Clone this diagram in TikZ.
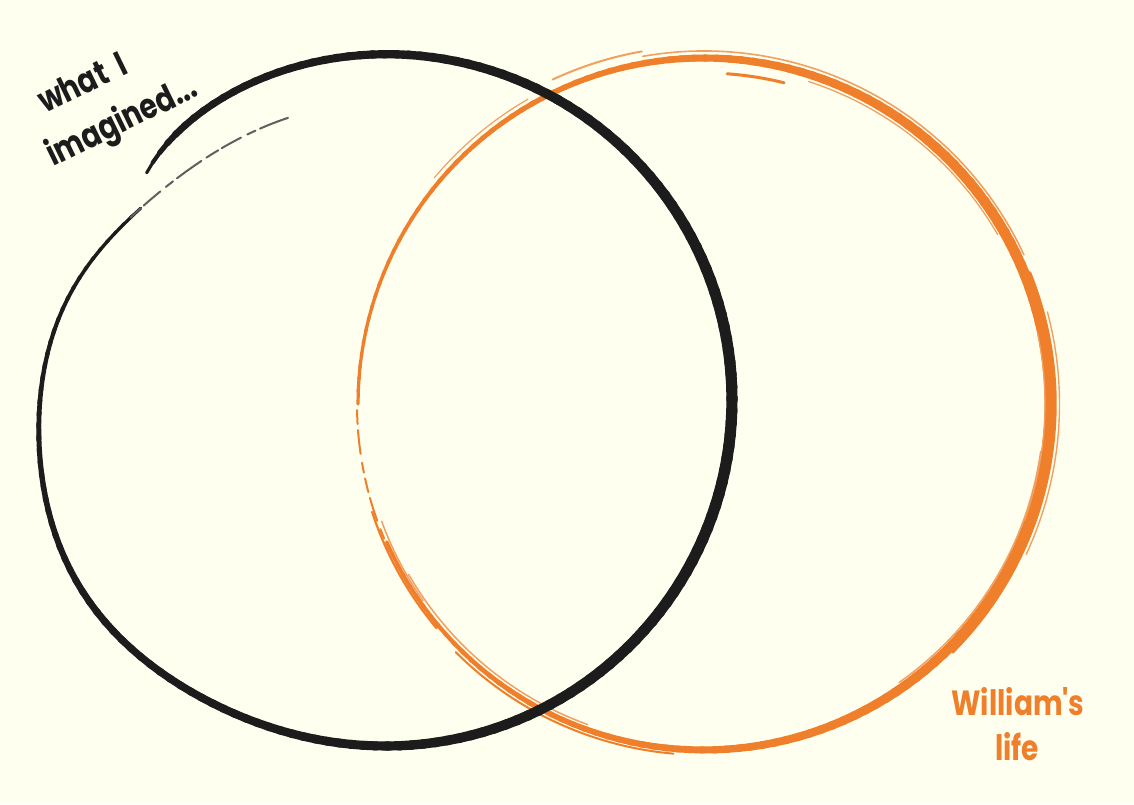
\documentclass[tikz,border=0pt]{standalone}
\usepackage{fontspec}
\newfontfamily\handfont{Poppins}[FakeStretch=0.8]
\definecolor{bg}{HTML}{FEFFEF}
\definecolor{ink}{HTML}{1C1C1C}
\definecolor{orng}{HTML}{EF7F2A}
\definecolor{orngl}{HTML}{F2A062}
\newcommand\orarc[4]{\draw[line cap=round,#1] ({704+#2*cos(#3)},{400+#2*sin(#3)}) arc[start angle=#3, end angle=#4, radius=#2pt];}
\begin{document}
\begin{tikzpicture}[x=1pt,y=1pt,
  declare function={
    rb(\s) = 346 - 16*exp(-min(\s/10,9)) + 13*exp(-min(((\s-285)/25)^2,9)) - 48/(1+exp(-max(min((\s-345)/10,9),-9)));
    wb(\s) = (8.7 + 2.5*cos(146.5-\s)) * min(1, 0.4+\s/14) * max(0.3, min(1, 1-(\s-280)/140));
    wo(\t) = 7+3.8*cos(\t);
  },
  handtext/.style={font=\handfont\bfseries\fontsize{35}{40}\selectfont, inner sep=0pt}]
\useasboundingbox (0,0) rectangle (1134,804);
\fill[bg] (0,0) rectangle (1134,804);
% orange circle: main stroke
\foreach \t in {180,178,...,-154}{
  \pgfmathsetmacro\w{wo(\t-1)}
  \draw[orng, line width=\w pt, line cap=round] ({704+346*cos(\t)},{400+346*sin(\t)}) -- ({704+346*cos(\t-2.5)},{400+346*sin(\t-2.5)});
}
% orange extra brush strokes
\orarc{orngl, line width=1.6pt}{353}{100}{25}
\orarc{orng, line width=2.4pt}{351.5}{22}{-45}
\orarc{orngl, line width=1.4pt}{355.5}{15}{-25}
\orarc{orngl, line width=1.2pt}{341}{12}{-20}
\orarc{orng, line width=3pt}{331}{86}{76}
\orarc{orngl, line width=1.3pt}{339}{72}{30}
\orarc{orngl, line width=1.5pt}{340}{-8}{-55}
\orarc{orng, line width=2pt}{351}{-95}{-135}
\orarc{orngl, line width=1.5pt}{341}{-110}{-150}
\orarc{orngl, line width=2pt}{358}{115}{100}
\orarc{orngl, line width=1.2pt}{352}{140}{120}
\orarc{orng, line width=2pt, dash pattern=on 14pt off 6pt on 24pt off 9pt on 10pt off 6pt}{347}{181}{205}
\orarc{orng, line width=2.2pt}{349}{-140}{-162}
\orarc{orngl, line width=1.5pt}{343}{-145}{-160}
% black spiral
\foreach \s in {0,2,...,352}{
  \pgfmathsetmacro\sa{\s}
  \pgfmathsetmacro\sb{\s+2.5}
  \pgfmathsetmacro\w{wb(\s+1)}
  \draw[ink, line width=\w pt, line cap=round] ({386+rb(\sa)*cos(136.5-\sa)},{404+rb(\sa)*sin(136.5-\sa)}) -- ({386+rb(\sb)*cos(136.5-\sb)},{404+rb(\sb)*sin(136.5-\sb)});
}
\draw[ink!70, line width=2pt, line cap=round, dash pattern=on 14pt off 4pt on 22pt off 7pt on 9pt off 5pt on 30pt off 6pt]
  plot[variable=\s, domain=352:388, samples=25, smooth] ({386+rb(\s)*cos(136.5-\s)},{404+rb(\s)*sin(136.5-\s)});
% labels
\node[handtext, text=ink, rotate=26, anchor=base west] (whatA) at (45,690) {what\hspace{12pt}I};
\node[handtext, text=ink, rotate=26, anchor=base west] (whatB) at (53,637) {imagined...};
\node[handtext, text=orng, anchor=base] (willA) at (1018,89) {William's};
\node[handtext, text=orng, anchor=base] (willB) at (1017,44) {life};
\end{tikzpicture}
\end{document}
